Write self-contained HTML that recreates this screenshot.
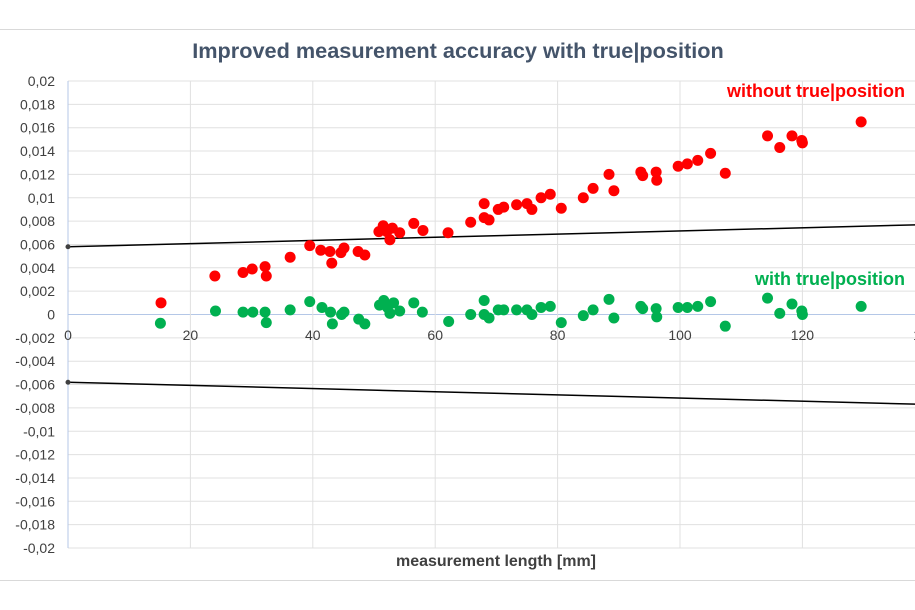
<!DOCTYPE html>
<html><head><meta charset="utf-8"><style>
html,body{margin:0;padding:0;background:#fff;}
svg{display:block;font-family:"Liberation Sans",sans-serif;}
</style></head><body>
<svg id="chart" width="915" height="610" viewBox="0 0 915 610">
<line x1="0" y1="29.5" x2="915" y2="29.5" stroke="#d9d9d9"/>
<line x1="0" y1="580.5" x2="915" y2="580.5" stroke="#d9d9d9"/>
<text x="458" y="58" text-anchor="middle" font-size="21.7" font-weight="bold" fill="#44546a">Improved measurement accuracy with true|position</text>
<g id="grid"></g>
<g id="yticks"></g>
<g id="xticks"></g>
<g id="limits"></g>
<g id="red"></g>
<g id="green"></g>
<text x="905" y="97" text-anchor="end" font-size="18" font-weight="bold" fill="#ff0000">without true|position</text>
<text x="905" y="285" text-anchor="end" font-size="18" font-weight="bold" fill="#00b050">with true|position</text>
<text x="496" y="566" text-anchor="middle" font-size="16" font-weight="bold" fill="#404040">measurement length [mm]</text>
</svg>
<script>
const yTicks=[-0.02,-0.018,-0.016,-0.014,-0.012,-0.01,-0.008,-0.006,-0.004,-0.002,0,0.002,0.004,0.006,0.008,0.01,0.012,0.014,0.016,0.018,0.02];
const yTickLabels=["-0,02","-0,018","-0,016","-0,014","-0,012","-0,01","-0,008","-0,006","-0,004","-0,002","0","0,002","0,004","0,006","0,008","0,01","0,012","0,014","0,016","0,018","0,02"];
const xTicks=[0,20,40,60,80,100,120,140];
const xTickLabels=["0","20","40","60","80","100","120","140"];
const redX=[15.2,24,28.6,30.1,32.2,32.4,36.3,39.5,41.3,42.8,43.1,44.6,45.1,47.4,48.5,50.8,51.5,52.1,52.6,53,54.2,56.5,58,62.1,65.8,68,68,68.8,70.3,71.2,73.3,75,75.8,77.3,78.8,80.6,84.2,85.8,88.4,89.2,93.6,93.9,96.1,96.2,99.7,101.2,102.9,105,107.4,114.3,116.3,118.3,119.9,120,129.6];
const redY=[0.001,0.0033,0.0036,0.0039,0.0041,0.0033,0.0049,0.0059,0.0055,0.0054,0.0044,0.0053,0.0057,0.0054,0.0051,0.0071,0.0076,0.0071,0.0064,0.0074,0.007,0.0078,0.0072,0.007,0.0079,0.0095,0.0083,0.0081,0.009,0.0092,0.0094,0.0095,0.009,0.01,0.0103,0.0091,0.01,0.0108,0.012,0.0106,0.0122,0.0119,0.0122,0.0115,0.0127,0.0129,0.0132,0.0138,0.0121,0.0153,0.0143,0.0153,0.0149,0.0147,0.0165];
const greenX=[15.1,24.1,28.6,30.2,32.2,32.4,36.3,39.5,41.5,42.9,43.2,44.7,45.1,47.5,48.5,50.9,51.6,52.2,52.6,53.2,54.2,56.5,57.9,62.2,65.8,68,68,68.8,70.3,71.2,73.3,75,75.8,77.3,78.8,80.6,84.2,85.8,88.4,89.2,93.6,93.9,96.1,96.2,99.7,101.2,102.9,105,107.4,114.3,116.3,118.3,119.9,120,129.6];
const greenY=[-0.00075,0.0003,0.0002,0.0002,0.0002,-0.0007,0.0004,0.0011,0.0006,0.0002,-0.0008,0,0.0002,-0.0004,-0.0008,0.0008,0.0012,0.0006,0.0001,0.001,0.0003,0.001,0.0002,-0.0006,0,0.0012,0,-0.0003,0.0004,0.0004,0.0004,0.0004,0,0.0006,0.0007,-0.0007,-0.0001,0.0004,0.0013,-0.0003,0.0007,0.0005,0.0005,-0.0002,0.0006,0.0006,0.0007,0.0011,-0.001,0.0014,0.0001,0.0009,0.0003,0,0.0007];
const limitX=[0,140];
const upperLimit=[0.0058,0.0077];
const lowerLimit=[-0.0058,-0.0077];

const NS="http://www.w3.org/2000/svg";
const X0=68,XS=6.12,Y0=314.5,YS=11675;
function sx(v){return X0+v*XS;}
function sy(v){return Y0-v*YS;}
function mk(tag,attrs,parent){const e=document.createElementNS(NS,tag);for(const k in attrs)e.setAttribute(k,attrs[k]);parent.appendChild(e);return e;}
const grid=document.getElementById('grid');
yTicks.forEach((t,i)=>{
  const l=mk('line',{x1:X0,x2:915,y1:sy(t),y2:sy(t),stroke:t===0?'#b4c7e7':'#e0e0e0','stroke-width':1},grid);
  
  
  const tx=mk('text',{x:55,y:sy(t)+5,'text-anchor':'end','font-size':14,fill:'#404040'},document.getElementById('yticks'));
  tx.textContent=yTickLabels[i];
  
  
});
xTicks.forEach((t,i)=>{
  if(t>0){const l=mk('line',{x1:sx(t),x2:sx(t),y1:sy(0.02),y2:sy(-0.02),stroke:'#e0e0e0'},grid);
  
  }
  const tx=mk('text',{x:sx(t),y:340,'text-anchor':'middle','font-size':14,fill:'#404040'},document.getElementById('xticks'));
  tx.textContent=xTickLabels[i];
  
  
});
const ax=mk('line',{x1:X0,x2:X0,y1:sy(0.02),y2:sy(-0.02),stroke:'#b4c7e7'},grid);


const lim=document.getElementById('limits');
[upperLimit,lowerLimit].forEach((arr,k)=>{
  const l=mk('line',{x1:sx(limitX[0]),y1:sy(arr[0]),x2:sx(limitX[1]),y2:sy(arr[1]),stroke:'#000','stroke-width':1.5},lim);
  
  
  const c=mk('circle',{cx:sx(limitX[0]),cy:sy(arr[0]),r:2.5,fill:'#404040'},lim);
  
  
});
function dots(xs,ys,id,color,name){
  const g=document.getElementById(id);
  xs.forEach((x,i)=>{
    const c=mk('circle',{cx:sx(x),cy:sy(ys[i]),r:5.5,fill:color},g);
    
    
  });
}
dots(redX,redY,'red','#ff0000','point-without-true-position');
dots(greenX,greenY,'green','#00b050','point-with-true-position');
</script>
</body></html>
